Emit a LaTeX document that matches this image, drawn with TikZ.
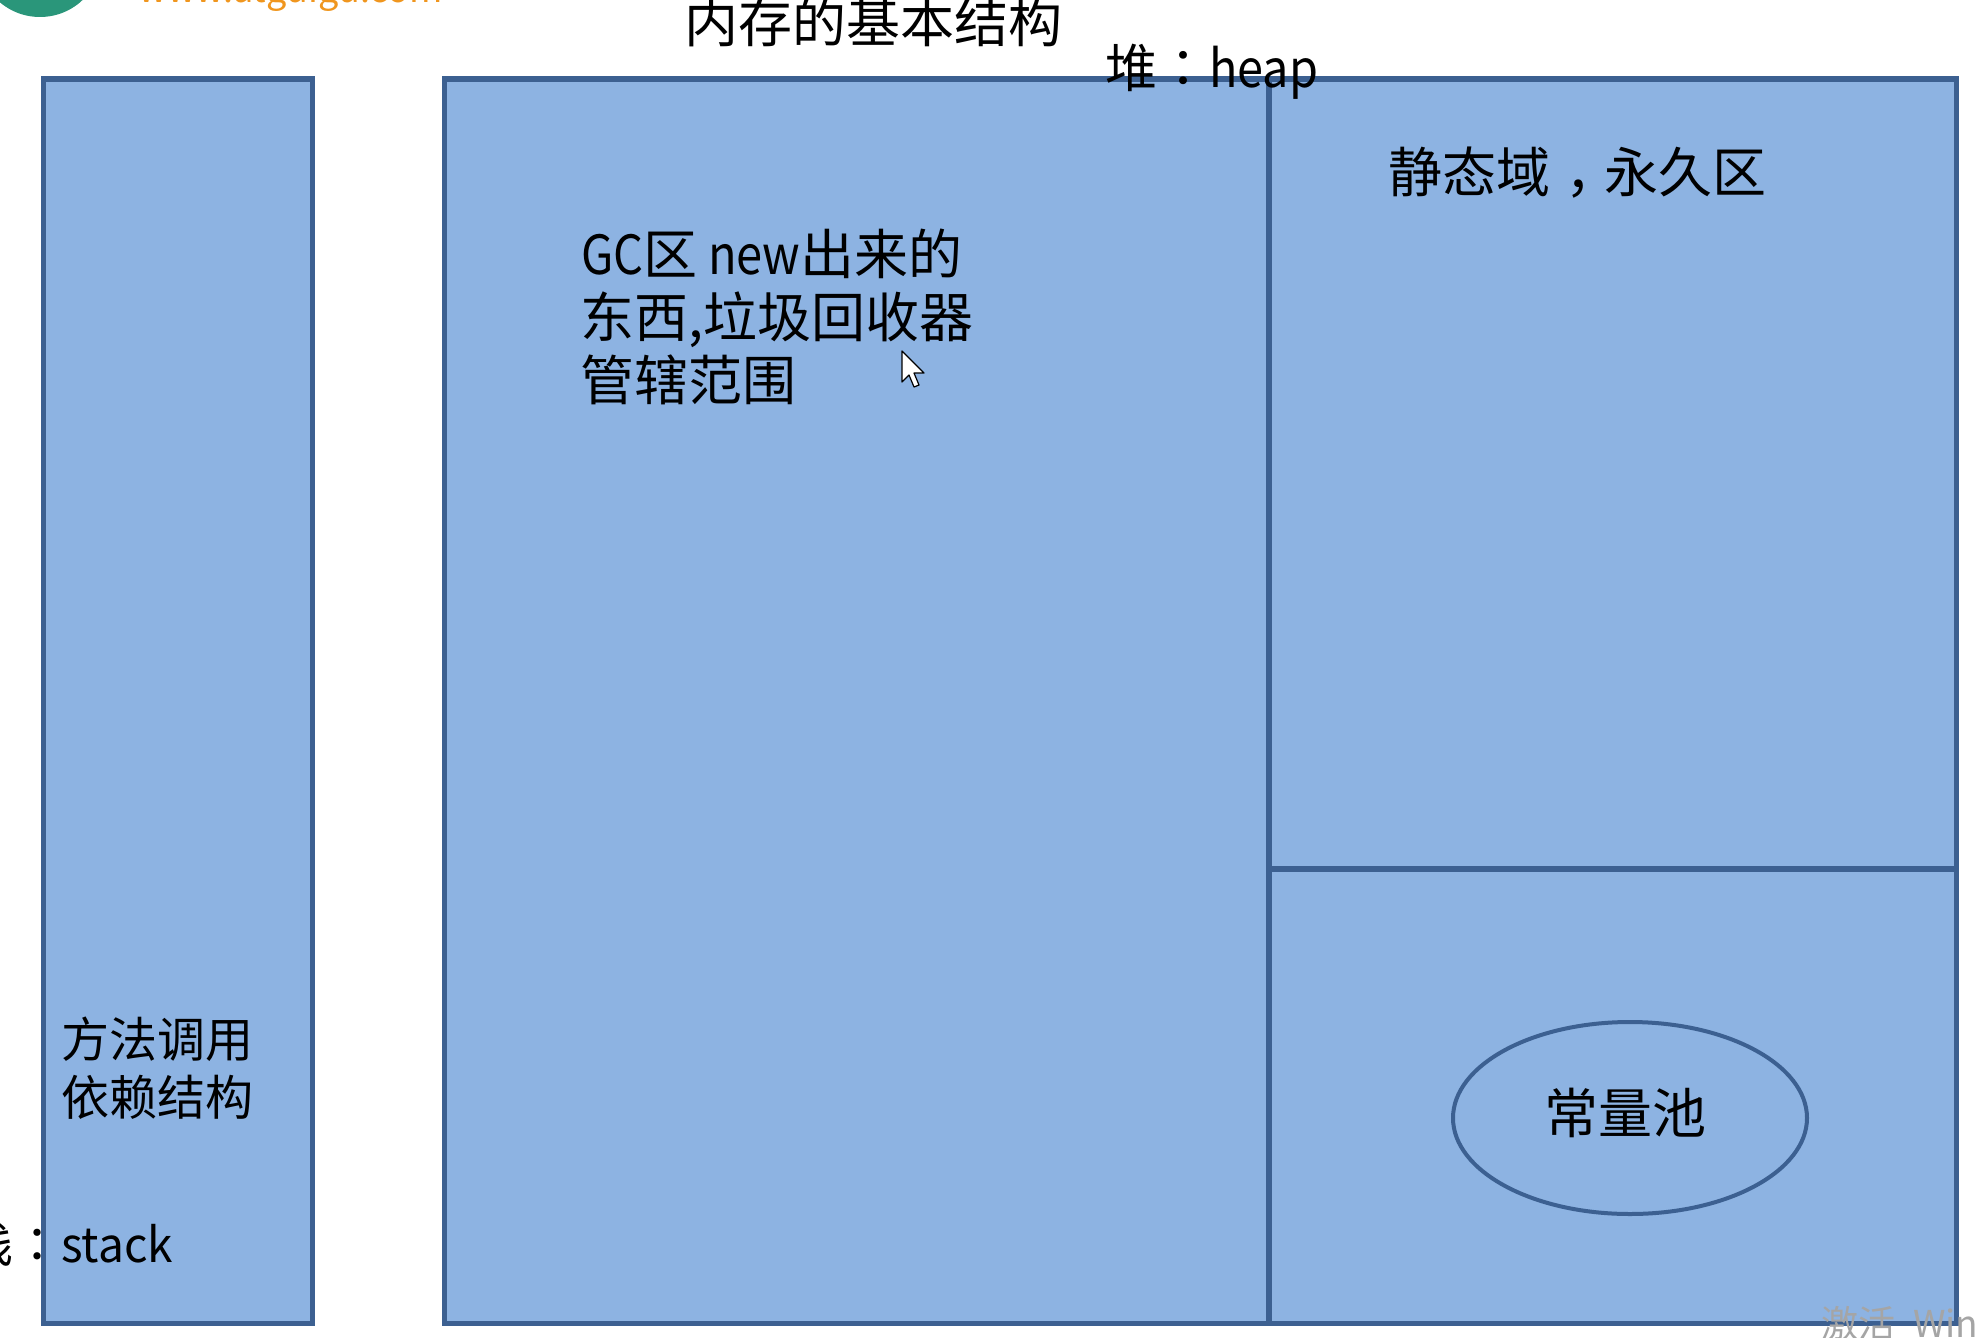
\documentclass[tikz,border=0pt]{standalone}
\usepackage{fontspec}
\setmainfont{Noto Sans CJK SC}
\newfontfamily\punctfont{Noto Sans CJK TC}
\usetikzlibrary{shapes.geometric}
\definecolor{boxfill}{RGB}{141,179,226}
\definecolor{boxline}{RGB}{60,96,145}
\definecolor{logogreen}{RGB}{42,150,122}
\definecolor{logoorange}{RGB}{240,150,30}
\definecolor{wmgray}{RGB}{165,165,165}
\newcommand{\cpunct}[1]{{\punctfont #1}}
\newcommand{\midcomma}{\makebox[1em][l]{\hspace{0.28em}，}}
\newcommand{\narrowlat}[2]{\scalebox{#1}[1]{#2}}
\begin{document}
\begin{tikzpicture}[x=1pt,y=-1pt,
  area/.style={draw=boxline, fill=boxfill, line width=5pt, rectangle, inner sep=0pt},
  divider/.style={draw=boxline, line width=5.5pt},
  lbl/.style={anchor=base west, inner sep=0pt, text=black, font=\fontsize{54}{63}\selectfont},
  smalllbl/.style={lbl, font=\fontsize{48}{57}\selectfont},
  pool/.style={ellipse, draw=boxline, line width=4pt, fill=boxfill, inner sep=0pt,
    minimum width=354, minimum height=192, font=\fontsize{54}{63}\selectfont}]
\useasboundingbox (0,0) rectangle (1978,1338);
\fill[white] (0,0) rectangle (1978,1338);

% partial logo at the top-left corner
\fill[logogreen] (40,-45) circle[radius=62];
\node[anchor=base west, inner sep=0pt, text=logoorange, font=\fontsize{36}{40}\selectfont] (logotext) at (138,3) {www.atguigu.com};

% title
\node[lbl] (title) at (684,43) {内存的基本结构};

% stack area
\node[area, minimum width=269, minimum height=1244] (stackbox) at (177.5,701) {};
% heap area
\node[area, minimum width=1512, minimum height=1244] (heapbox) at (1200,701) {};

% dividers inside the heap
\coordinate (dtop) at (1269,79);
\coordinate (dbot) at (1269,1323);
\coordinate (hleft) at (1269,869);
\coordinate (hright) at (1956,869);
\draw[divider] (dtop) -- (dbot);
\draw[divider] (hleft) -- (hright);

% constant pool
\node[pool] (poolnode) at (1630,1118) {\hspace{-10pt}\raisebox{14pt}{常量池}};

% labels
\node[lbl, font=\fontsize{52}{63}\selectfont] (heaplbl) at (1105,88) {堆\cpunct{：}\narrowlat{0.9}{heap}};
\node[lbl] (staticlbl) at (1388,192) {静态域\midcomma 永久区};
\node[lbl] (gc1) at (581,274) {\narrowlat{0.87}{GC}区\narrowlat{0.87}{ new}出来的};
\node[lbl] (gc2) at (580,337) {东西,垃圾回收器};
\node[lbl] (gc3) at (580,400) {管辖范围};
\node[smalllbl] (m1) at (61,1057) {方法调用};
\node[smalllbl] (m2) at (61,1115) {依赖结构};
\node[smalllbl] (stacklbl) at (-35,1262) {栈\cpunct{：}\narrowlat{0.96}{stack}};

% mouse pointer
\draw[black, fill=white, line width=1.2pt, line join=round]
  (902,351) -- (902,382) -- (909,375) -- (914,387) -- (919,385) -- (914,373) -- (924,373) -- cycle;

% watermark
\node[anchor=base west, inner sep=0pt, text=wmgray, font=\fontsize{37}{40}\selectfont] (wm) at (1821,1337) {激活\hspace{18pt}Windows};
\end{tikzpicture}
\end{document}
